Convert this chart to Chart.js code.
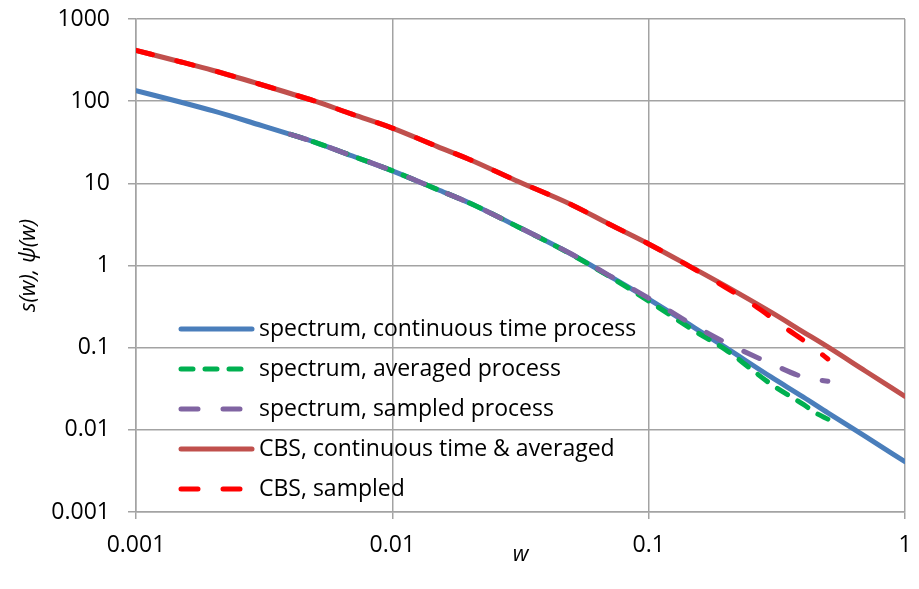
<!DOCTYPE html>
<html>
<head>
<meta charset="utf-8">
<script src="https://cdn.jsdelivr.net/npm/chart.js@4.4.0/dist/chart.umd.min.js"></script>
<style>
  html, body { margin: 0; padding: 0; background: #fff; }
</style>
</head>
<body>
<canvas id="spectrumChart" width="919" height="589"></canvas>
<script>
// Frequency grid for the full-range curves
const wFull = [0.001, 0.0015, 0.002, 0.003, 0.004, 0.005, 0.007, 0.01, 0.015, 0.02, 0.03,
               0.05, 0.07, 0.1, 0.15, 0.2, 0.3, 0.4, 0.5, 0.7, 1];
// Spectrum, continuous time process
const specContinuous = [134, 97, 76, 52, 39.5, 31.5, 21.5, 14.2, 8.4, 5.75, 3.1,
                        1.37, 0.75, 0.39, 0.177, 0.1, 0.044, 0.0252, 0.0161, 0.0083, 0.0041];
// CBS, continuous time & averaged
const cbsContinuous = [415, 300, 236, 163, 124, 100, 69, 47, 28, 19.5, 11,
                       5.5, 3.2, 1.83, 0.92, 0.56, 0.27, 0.156, 0.102, 0.052, 0.0255];

// Discrete processes only go up to the Nyquist frequency 0.5
const wDiscrete = [0.004, 0.005, 0.007, 0.01, 0.015, 0.02, 0.03, 0.05, 0.07, 0.1,
                   0.15, 0.2, 0.3, 0.4, 0.45, 0.5];
const specAveraged = [39.5, 31.5, 21.5, 14.2, 8.4, 5.75, 3.1, 1.36, 0.74, 0.37,
                      0.162, 0.094, 0.036, 0.0205, 0.016, 0.0135];
const specSampled = [39.5, 31.5, 21.5, 14.2, 8.4, 5.75, 3.1, 1.38, 0.76, 0.4,
                     0.187, 0.115, 0.064, 0.044, 0.041, 0.039];

const wCbsSampled = [0.001, 0.0015, 0.002, 0.003, 0.004, 0.005, 0.007, 0.01, 0.015, 0.02, 0.03,
                     0.05, 0.07, 0.1, 0.15, 0.2, 0.25, 0.3, 0.35, 0.4, 0.45, 0.5];
const cbsSampled = [415, 300, 236, 163, 124, 100, 69, 47, 28, 19.5, 11,
                    5.5, 3.2, 1.83, 0.91, 0.54, 0.35, 0.235, 0.165, 0.124, 0.094, 0.073];

const xTicks = [0.001, 0.01, 0.1, 1];
const xTickLabels = ['0.001', '0.01', '0.1', '1'];
const yTicks = [0.001, 0.01, 0.1, 1, 10, 100, 1000];
const yTickLabels = ['0.001', '0.01', '0.1', '1', '10', '100', '1000'];

const FONT = '"Open Sans", "DejaVu Sans", sans-serif';
const gridColor = '#a3a3a3';

function toPoints(xs, ys) {
    return xs.map((x, i) => ({ x: x, y: ys[i] }));
}

function lineSet(label, xs, ys, color, dash, order) {
    return {
        label: label,
        data: toPoints(xs, ys),
        borderColor: color,
        backgroundColor: color,
        borderWidth: 5,
        borderDash: dash,
        borderCapStyle: 'round',
        borderJoinStyle: 'round',
        cubicInterpolationMode: 'monotone',
        pointRadius: 0,
        fill: false,
        order: order
    };
}

// keep the plot box fixed: no extra room for overhanging tick labels
function noLabelPadding(scale) {
    scale.paddingTop = 0;
    scale.paddingBottom = 0;
    scale.paddingLeft = 0;
    scale.paddingRight = 0;
}

// Legend drawn inside the plot area, lower left
const insideLegend = {
    id: 'insideLegend',
    afterDatasetsDraw(chart) {
        const { ctx, chartArea } = chart;
        const x0 = chartArea.left + 45;
        const x1 = x0 + 71;
        let y = chartArea.top + 310;
        ctx.save();
        ctx.font = '23px ' + FONT;
        ctx.textBaseline = 'middle';
        ctx.textAlign = 'left';
        chart.data.datasets.forEach(ds => {
            ctx.strokeStyle = ds.borderColor;
            ctx.lineWidth = ds.borderWidth;
            ctx.lineCap = 'round';
            ctx.setLineDash(ds.borderDash || []);
            ctx.beginPath();
            ctx.moveTo(x0, y);
            ctx.lineTo(x1, y);
            ctx.stroke();
            ctx.setLineDash([]);
            ctx.fillStyle = '#000';
            ctx.fillText(ds.label, x1 + 7, y);
            y += 40;
        });
        ctx.restore();
    }
};

const ctx = document.getElementById('spectrumChart').getContext('2d');

new Chart(ctx, {
    type: 'line',
    data: {
        datasets: [
            lineSet('spectrum, continuous time process', wFull, specContinuous, '#4a7ebb', [], 5),
            lineSet('spectrum, averaged process', wDiscrete, specAveraged, '#00b050', [12, 12], 4),
            lineSet('spectrum, sampled process', wDiscrete, specSampled, '#8064a2', [17, 25], 3),
            lineSet('CBS, continuous time & averaged', wFull, cbsContinuous, '#c0504d', [], 2),
            lineSet('CBS, sampled', wCbsSampled, cbsSampled, '#ff0000', [17, 25], 1)
        ]
    },
    options: {
        responsive: false,
        animation: false,
        layout: { padding: { top: 19, right: 14, left: 0, bottom: 0 } },
        plugins: {
            legend: { display: false },
            tooltip: { enabled: false }
        },
        scales: {
            x: {
                type: 'logarithmic',
                min: 0.001,
                max: 1,
                afterBuildTicks: scale => { scale.ticks = xTicks.map(v => ({ value: v })); },
                afterFit: scale => { scale.height = 77; noLabelPadding(scale); },
                ticks: {
                    autoSkip: false,
                    maxRotation: 0,
                    padding: 13,
                    color: '#000',
                    font: { family: FONT, size: 23 },
                    callback: (v, i) => xTickLabels[i]
                },
                grid: { color: gridColor, lineWidth: 1.5, tickLength: 7 },
                border: { color: gridColor, width: 1.5 },
                title: {
                    display: true,
                    text: 'w',
                    color: '#000',
                    font: { family: FONT, size: 22, style: 'italic' },
                    padding: { top: 0, bottom: 21 }
                }
            },
            y: {
                type: 'logarithmic',
                min: 0.001,
                max: 1000,
                afterBuildTicks: scale => { scale.ticks = yTicks.map(v => ({ value: v })); },
                afterFit: scale => { scale.width = 136; noLabelPadding(scale); },
                ticks: {
                    autoSkip: false,
                    padding: 18,
                    color: '#000',
                    font: { family: FONT, size: 23 },
                    callback: (v, i) => yTickLabels[i]
                },
                grid: { color: gridColor, lineWidth: 1.5, tickLength: 8 },
                border: { color: gridColor, width: 1.5 },
                title: {
                    display: true,
                    text: 's(w), ψ(w)',
                    color: '#000',
                    font: { family: FONT, size: 22, style: 'italic' },
                    padding: { top: 16, bottom: 0 }
                }
            }
        }
    },
    plugins: [insideLegend]
});
</script>
</body>
</html>
